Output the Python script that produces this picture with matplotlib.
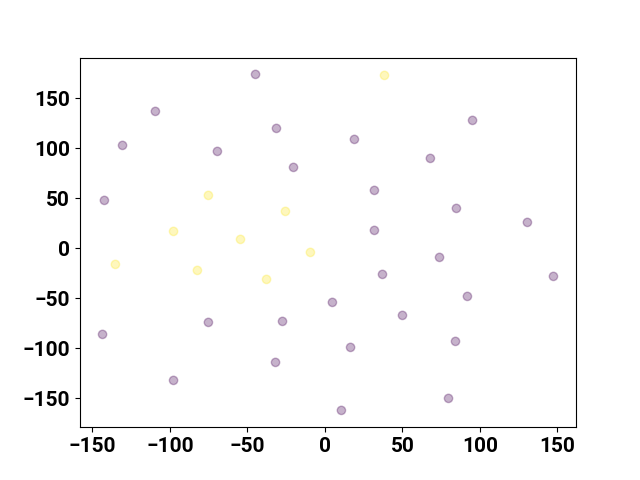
import numpy as np
import matplotlib; matplotlib.use('Agg')
import matplotlib.pyplot as plt

plt.rcParams['font.family'] = ['Roboto', 'DejaVu Sans']
plt.rcParams['font.weight'] = 'bold'
plt.rcParams['font.size'] = 15

# point coordinates and class (0 = purple, 1 = yellow)
xs = [-44.8, 38.4, -109.4, 95.2, -31.3, -130.6, -69.4, 19.0, 68.0, -20.3,
      31.9, -142.3, -75.2, 84.8, -25.5, 130.6, -97.7, 31.9, -54.5, -9.4,
      73.9, -135.2, -82.3, 37.1, 147.4, -37.7, 91.9, 4.8, 50.0, -27.4,
      -75.2, -143.5, 84.2, 16.5, -31.9, -97.7, 79.7, 10.6]
ys = [174, 173, 137, 128, 120, 103, 97, 109, 90, 81,
      58, 48, 53, 40, 37, 26, 17, 18, 9, -4,
      -9, -16, -22, -26, -28, -31, -48, -54, -67, -73,
      -74, -86, -93, -99, -114, -132, -150, -162]
labels = [0, 1, 0, 0, 0, 0, 0, 0, 0, 0,
          0, 0, 1, 0, 1, 0, 1, 0, 1, 1,
          0, 1, 1, 0, 0, 1, 0, 0, 0, 0,
          0, 0, 0, 0, 0, 0, 0, 0]

fig, ax = plt.subplots(figsize=(6.4, 4.8), dpi=100)
ax.scatter(xs, ys, c=labels, cmap='viridis', alpha=0.3)
plt.savefig('out.png')
